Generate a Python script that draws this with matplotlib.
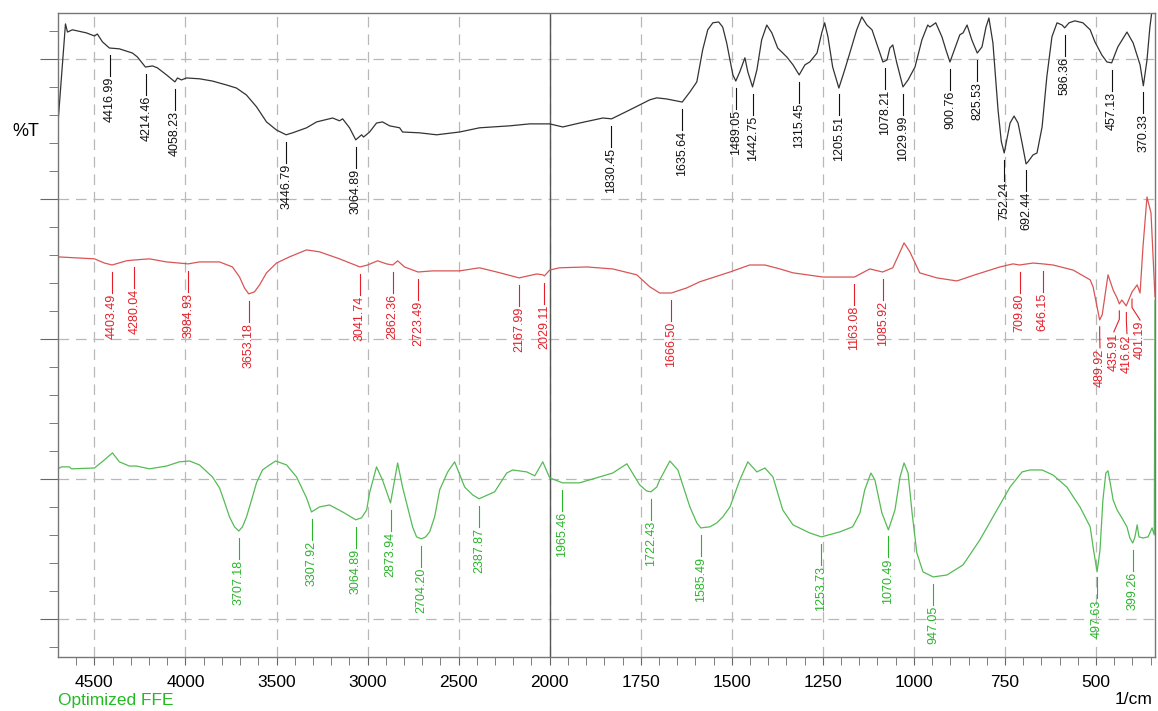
import numpy as np
import matplotlib.pyplot as plt

plt.rcParams['font.family'] = ['Liberation Sans', 'DejaVu Sans']

# spectra: (wavenumber 1/cm, %T in arbitrary offset units)
black = [(4700, 177.1), (4659, 212.5), (4648, 209.6), (4621, 210.4), (4544, 209.3), (4500, 208.2),
         (4484, 208.9), (4456, 206.1), (4418, 203.9), (4363, 203.6), (4291, 202.1), (4264, 200.7),
         (4220, 197.1), (4181, 197.5), (4154, 196.8), (4104, 194.3), (4058, 191.8), (4044, 193.2),
         (4022, 192.5), (3995, 193.2), (3923, 192.9), (3852, 192.1), (3775, 190.7), (3720, 189.6),
         (3665, 187.1), (3610, 182.9), (3555, 177.5), (3500, 174.6), (3447, 172.9), (3412, 173.6),
         (3335, 175.4), (3280, 177.5), (3192, 178.9), (3154, 177.9), (3137, 178.6), (3099, 175.4),
         (3065, 171.1), (3033, 172.9), (3022, 172.1), (2989, 173.9), (2951, 177.1), (2918, 177.5),
         (2879, 176.1), (2824, 175.4), (2808, 173.9), (2714, 173.6), (2621, 172.9), (2495, 173.9),
         (2385, 175.4), (2220, 176.1), (2110, 176.8), (2000, 176.8), (1964, 175.7), (1918, 177.1),
         (1854, 178.9), (1830, 178.6), (1780, 181.8), (1725, 185.4), (1706, 186.1), (1679, 185.7),
         (1636, 184.6), (1615, 188.2), (1596, 191.8), (1580, 203.2), (1566, 210.4), (1552, 212.9),
         (1536, 213.2), (1525, 211.4), (1514, 205.7), (1505, 199.6), (1497, 194.3), (1489, 192.1),
         (1478, 195.4), (1464, 200.4), (1456, 195.4), (1443, 190.0), (1431, 196.1), (1418, 206.8),
         (1404, 212.1), (1390, 209.3), (1374, 203.9), (1349, 200.7), (1332, 197.9), (1315, 194.3),
         (1299, 197.9), (1286, 198.9), (1266, 202.1), (1253, 209.3), (1245, 212.9), (1236, 207.9),
         (1223, 197.1), (1206, 189.6), (1190, 196.1), (1176, 202.1), (1157, 210.4), (1143, 215.0),
         (1129, 212.1), (1115, 210.4), (1099, 204.3), (1085, 198.9), (1074, 199.6), (1066, 203.9),
         (1058, 205.0), (1047, 198.6), (1030, 190.0), (1016, 192.5), (997, 197.1), (978, 206.8),
         (962, 212.1), (956, 211.4), (940, 212.9), (923, 207.9), (912, 203.2), (901, 198.9),
         (887, 203.9), (874, 208.6), (865, 209.3), (854, 212.1), (841, 206.8), (826, 202.1),
         (813, 204.3), (802, 211.4), (794, 214.6), (783, 205.7), (769, 181.8), (760, 170.5),
         (752, 166.4), (736, 177.1), (725, 179.6), (714, 177.1), (703, 170.0), (692, 162.5),
         (687, 163.2), (673, 165.7), (662, 166.4), (648, 175.7), (635, 193.6), (621, 207.9),
         (607, 212.9), (593, 212.1), (586, 211.1), (574, 212.9), (558, 213.6), (536, 212.9),
         (516, 210.4), (503, 206.1), (484, 201.4), (470, 198.9), (457, 198.6), (440, 204.3),
         (415, 209.6), (398, 205.7), (379, 197.9), (370, 190.4), (360, 199.6), (352, 211.4),
         (346, 217.5), (338, 225.0)]

red = [(4700, 129.3), (4500, 128.6), (4445, 127.1), (4403, 126.4), (4324, 127.9), (4280, 128.2),
       (4198, 128.6), (4104, 127.5), (3985, 126.8), (3923, 127.5), (3813, 127.5), (3742, 125.7),
       (3703, 122.1), (3676, 118.2), (3653, 116.1), (3621, 116.8), (3593, 119.3), (3555, 123.6),
       (3500, 127.1), (3429, 129.3), (3335, 131.8), (3264, 131.1), (3154, 128.6), (3042, 125.7),
       (3000, 126.4), (2945, 127.9), (2896, 126.8), (2862, 126.4), (2835, 127.9), (2797, 125.7),
       (2723, 123.9), (2643, 124.3), (2495, 124.3), (2385, 125.4), (2291, 123.9), (2168, 121.8),
       (2071, 123.2), (2038, 122.9), (2029, 122.5), (2000, 124.6), (1973, 125.4), (1898, 125.7),
       (1827, 125.0), (1761, 122.9), (1725, 118.6), (1698, 116.4), (1666, 116.4), (1624, 118.2),
       (1588, 120.4), (1505, 123.9), (1451, 126.4), (1409, 126.4), (1368, 125.0), (1332, 123.6),
       (1250, 122.1), (1163, 122.1), (1121, 125.0), (1086, 123.9), (1058, 125.4), (1038, 131.1),
       (1027, 134.3), (1011, 131.1), (984, 123.6), (937, 121.8), (882, 120.7), (832, 122.9),
       (764, 125.7), (728, 126.8), (710, 126.4), (673, 127.1), (646, 126.8), (618, 126.4),
       (563, 124.6), (516, 121.1), (508, 118.6), (490, 106.8), (483, 108.6), (467, 122.9),
       (453, 117.5), (442, 114.6), (436, 112.5), (429, 113.9), (417, 111.8), (401, 116.8),
       (387, 119.3), (379, 116.4), (371, 132.9), (360, 150.7), (349, 145.0), (338, 115.0)]

green = [(4700, 53.6), (4681, 54.3), (4637, 54.3), (4626, 53.6), (4500, 53.9), (4445, 56.8),
         (4401, 59.3), (4363, 56.1), (4308, 54.6), (4269, 54.6), (4198, 53.6), (4104, 54.6),
         (4033, 56.1), (3978, 56.4), (3923, 55.0), (3852, 50.7), (3813, 46.8), (3786, 41.8),
         (3758, 36.4), (3731, 32.9), (3707, 31.4), (3687, 32.9), (3665, 36.4), (3637, 42.5),
         (3610, 48.6), (3577, 53.2), (3538, 55.0), (3505, 56.4), (3445, 55.0), (3390, 50.7),
         (3335, 43.2), (3308, 38.2), (3264, 40.0), (3209, 40.7), (3137, 38.2), (3065, 35.4),
         (3033, 36.1), (3005, 38.9), (2989, 45.0), (2951, 54.3), (2918, 49.6), (2874, 41.4),
         (2835, 55.7), (2808, 47.1), (2753, 32.9), (2731, 29.3), (2704, 28.6), (2681, 29.3),
         (2659, 31.1), (2632, 36.4), (2604, 46.1), (2560, 52.5), (2522, 56.1), (2467, 47.1),
         (2423, 44.3), (2388, 42.9), (2302, 45.4), (2236, 52.1), (2203, 53.2), (2126, 52.5),
         (2082, 51.1), (2038, 56.1), (2000, 50.4), (1965, 48.6), (1918, 48.6), (1827, 52.1),
         (1788, 55.4), (1753, 47.9), (1734, 45.7), (1722, 45.4), (1706, 47.1), (1698, 49.6),
         (1670, 56.4), (1648, 53.2), (1615, 40.0), (1596, 34.3), (1585, 32.5), (1560, 32.9),
         (1541, 34.3), (1525, 36.4), (1505, 40.0), (1478, 49.6), (1456, 56.1), (1431, 52.5),
         (1409, 53.9), (1387, 50.7), (1360, 38.9), (1332, 33.6), (1286, 30.7), (1254, 29.3),
         (1203, 31.1), (1168, 32.9), (1148, 37.9), (1135, 46.1), (1118, 52.1), (1107, 49.6),
         (1088, 37.9), (1070, 31.8), (1052, 38.9), (1038, 50.7), (1027, 55.7), (1016, 52.1),
         (1005, 37.9), (992, 23.6), (975, 16.8), (947, 15.0), (909, 15.7), (865, 19.3),
         (819, 28.2), (772, 38.9), (736, 47.1), (703, 52.5), (681, 53.2), (648, 53.2),
         (618, 51.4), (580, 47.1), (544, 40.0), (516, 32.9), (508, 25.7), (497, 16.8),
         (489, 24.6), (481, 42.5), (473, 52.1), (467, 52.9), (459, 47.1), (453, 42.5),
         (442, 38.9), (429, 36.1), (415, 32.9), (407, 28.9), (399, 27.1), (393, 29.3),
         (387, 33.6), (382, 29.3), (371, 28.9), (357, 29.3), (346, 32.5), (340, 30.0),
         (338, 113.9)]

black_peaks = [4416.99, 4214.46, 4058.23, 3446.79, 3064.89, 1830.45, 1635.64, 1489.05, 1442.75,
               1315.45, 1205.51, 1078.21, 1029.99, 900.76, 825.53, 752.24, 692.44, 586.36,
               457.13, 370.33]
red_peaks = [4403.49, 4280.04, 3984.93, 3653.18, 3041.74, 2862.36, 2723.49, 2167.99, 2029.11,
             1666.50, 1163.08, 1085.92, 709.80, 646.15, 489.92, 435.91, 416.62, 401.19]
green_peaks = [3707.18, 3307.92, 3064.89, 2873.94, 2704.20, 2387.87, 1965.46, 1722.43, 1585.49,
               1253.73, 1070.49, 947.05, 497.63, 399.26]

major_x = [4500, 4000, 3500, 3000, 2500, 2000, 1750, 1500, 1250, 1000, 750, 500]

# where crowded labels are pushed sideways
label_shift = {489.92: 489, 435.91: 451, 416.62: 415, 401.19: 379}


# x axis: 2000 1/cm in the middle, the right half is stretched twice
def fwd(w):
    w = np.asarray(w, dtype=float)
    return np.where(w > 2000, 2000 + (w - 2000) / 2, w)


def inv(u):
    u = np.asarray(u, dtype=float)
    return np.where(u > 2000, 2000 + (u - 2000) * 2, u)


fig = plt.figure(figsize=(11.58, 7.11), dpi=100)
ax = fig.add_axes([58 / 1158, 54 / 711, 1097 / 1158, 644 / 711])
ax.set_xscale('function', functions=(fwd, inv))
ax.set_xlim(4700, 338)
ax.set_ylim(-13.6, 216.4)

minor_x = [w for w in list(range(4600, 2000, -100)) + list(range(1950, 340, -50))
           if w not in major_x]
ax.set_xticks(major_x)
ax.set_xticklabels([str(w) for w in major_x])
ax.set_xticks(minor_x, minor=True)
ax.set_yticks([0, 50, 100, 150, 200])
ax.set_yticks(np.arange(-10, 216, 10), minor=True)
ax.set_yticklabels([])

ax.tick_params(axis='x', which='both', direction='out', length=6, color='#666666',
               labelsize=12.5, pad=7)
ax.tick_params(axis='y', which='major', direction='out', length=13, color='#666666')
ax.tick_params(axis='y', which='minor', direction='out', length=6.5, color='#666666')
for s in ax.spines.values():
    s.set_color('#777777')
    s.set_linewidth(1)

ax.grid(True, which='major', color='#b8b8b8', linestyle=(0, (8.5, 5.5)), linewidth=0.9)
ax.axvline(2000, color='#555555', linewidth=1)

traces = [
    (black, black_peaks, '#333333', '#111111'),
    (red, red_peaks, '#d95555', '#e3202a'),
    (green, green_peaks, '#55bb55', '#2ab52a'),
]
for pts, peaks, c_line, c_text in traces:
    wn = np.array([p[0] for p in pts], dtype=float)
    t = np.array([p[1] for p in pts], dtype=float)
    ax.plot(wn, t, color=c_line, linewidth=0.9)
    for p in peaks:
        top = np.interp(p, wn[::-1], t[::-1]) - 2.5
        xt = label_shift.get(p, p)
        ax.plot([p, p, xt], [top, top - 3, top - 7.5], color=c_text, linewidth=0.8)
        ax.text(xt, top - 7.8, f'{p:.2f}', rotation=90, ha='center', va='top',
                fontsize=9, color=c_text)

fig.text(12 / 1158, 1 - 131 / 711, '%T', fontsize=13, va='center')
fig.text(58 / 1158, 1 - 700 / 711, 'Optimized FFE', fontsize=12.5, va='center',
         color='#22bb22')
fig.text(1152 / 1158, 1 - 700 / 711, '1/cm', fontsize=12.5, va='center', ha='right')

fig.savefig('out.png', dpi=100)
